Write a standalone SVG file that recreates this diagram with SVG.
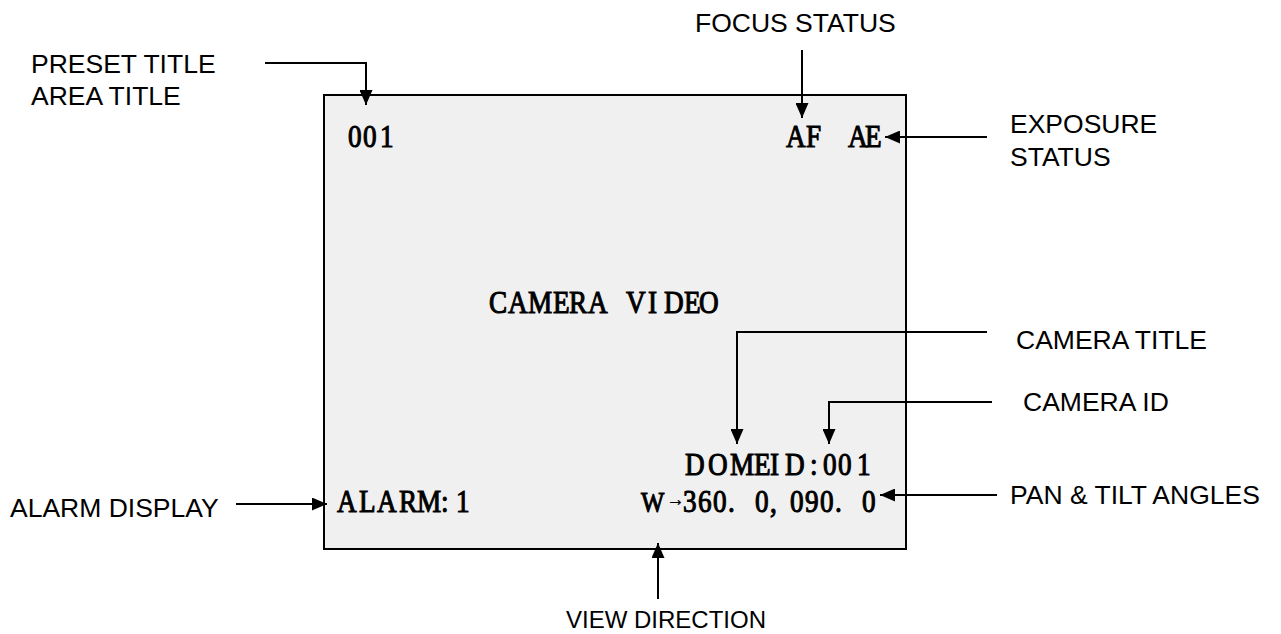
<svg xmlns="http://www.w3.org/2000/svg" width="1281" height="634" viewBox="0 0 1281 634">
<style>
  .lbl { font-family: "Liberation Sans", Arial, sans-serif; font-size: 26.5px; fill: #000; }
  .osd { font-family: "Liberation Serif", "Times New Roman", serif; font-size: 32px; fill: #000; stroke: #000; stroke-width: 1.1px; }
  .con { fill: none; stroke: #000; stroke-width: 2; }
</style>
<defs>
  <marker id="ah" markerUnits="userSpaceOnUse" markerWidth="15" markerHeight="13" refX="15" refY="6.5" orient="auto">
    <path d="M0,0 L15,6.5 L0,13 Z" fill="#000"/>
  </marker>
</defs>
<rect width="1281" height="634" fill="#fff"/>

<g id="screen">
  <rect x="324" y="95" width="582" height="454" fill="#f0f0f0" stroke="#000" stroke-width="2"/>
  <g transform="scale(0.85,1)">
    <text class="osd" x="409.4 427.1 447.1" y="147">001</text>
    <text class="osd" x="924.7 948.2 974.1 997.6 1017.6" y="147">AF AE</text>
    <text class="osd" x="575.3 597.6 621.2 650.6 669.4 691.8 715.3 736.5 762.4 781.2 804.7 822.4" y="313">CAMERA VIDEO</text>
    <text class="osd" x="805.9 832.9 858.8 887.1 905.9 923.5 952.9 968.2 985.9 1008.2" y="475">DOMEID:001</text>
    <text class="osd" x="396.5 422.4 443.5 469.4 490.6 518.8 536.5" y="512">ALARM:1</text>
    <text class="osd" y="512"><tspan x="754.1" font-size="29">W</tspan><tspan x="784.5" font-size="21" stroke-width="0.3" dy="-6">→</tspan><tspan x="803.5 821.2 838.8 856.5 888.2 905.9 929.4 947.1 964.7 982.4 1014.1" dy="6">360.0,090.0</tspan></text>
  </g>
</g>

<g id="label-preset">
  <text class="lbl" x="31" y="73">PRESET TITLE</text>
  <text class="lbl" x="31" y="105">AREA TITLE</text>
</g>
<g id="label-focus"><text class="lbl" x="695" y="32">FOCUS STATUS</text></g>
<g id="label-exposure">
  <text class="lbl" x="1010" y="133">EXPOSURE</text>
  <text class="lbl" x="1010" y="166">STATUS</text>
</g>
<g id="label-camera-title"><text class="lbl" x="1016" y="349">CAMERA TITLE</text></g>
<g id="label-camera-id"><text class="lbl" x="1023" y="411">CAMERA ID</text></g>
<g id="label-alarm"><text class="lbl" x="10" y="517">ALARM DISPLAY</text></g>
<g id="label-pan-tilt"><text class="lbl" x="1010" y="504">PAN &amp; TILT ANGLES</text></g>
<g id="label-view"><text class="lbl" x="666" y="628" text-anchor="middle" style="font-size:24px">VIEW DIRECTION</text></g>

<g id="connectors">
  <polyline class="con" points="265,63 366,63 366,105" marker-end="url(#ah)"/>
  <line class="con" x1="802" y1="50" x2="802" y2="118" marker-end="url(#ah)"/>
  <line class="con" x1="987" y1="137" x2="885" y2="137" marker-end="url(#ah)"/>
  <polyline class="con" points="987,332 737,332 737,444" marker-end="url(#ah)"/>
  <polyline class="con" points="992,402 829,402 829,444" marker-end="url(#ah)"/>
  <line class="con" x1="236" y1="504" x2="327" y2="504" marker-end="url(#ah)"/>
  <line class="con" x1="997" y1="495" x2="880" y2="495" marker-end="url(#ah)"/>
  <line class="con" x1="658" y1="599" x2="658" y2="543" marker-end="url(#ah)"/>
</g>
</svg>
